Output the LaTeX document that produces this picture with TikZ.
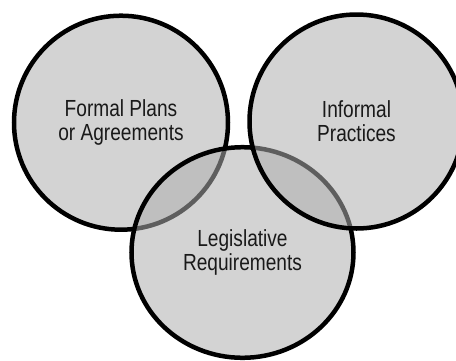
\documentclass[tikz,border=0pt]{standalone}
\usepackage{fontspec}
\setmainfont{Liberation Sans}[FakeStretch=0.82]
\usetikzlibrary{shapes.geometric}
\definecolor{vfill}{gray}{0.682}
\definecolor{vtext}{gray}{0.1}
\tikzset{
  venn/.style={draw=black, line width=4.5pt, fill=vfill, fill opacity=0.545,
    draw opacity=1, text opacity=1, text=vtext, inner sep=0pt, align=center,
    font=\fontsize{23.3}{24}\selectfont},
  vcircle/.style={venn, circle, minimum size=214pt},
  vellipse/.style={venn, ellipse, minimum width=222pt, minimum height=210.6pt}
}
\begin{document}
\begin{tikzpicture}[x=1pt,y=-1pt]
\useasboundingbox (0,0) rectangle (456,360);
\clip (0,0) rectangle (456,360);
\node[vcircle] (formal) at (121,122.7) {Formal Plans\\or Agreements};
\node[vellipse] (legis) at (242.5,252.5) {Legislative\\Requirements};
\node[vcircle] (informal) at (356.5,121.5) {Informal\\Practices};
\end{tikzpicture}
\end{document}
